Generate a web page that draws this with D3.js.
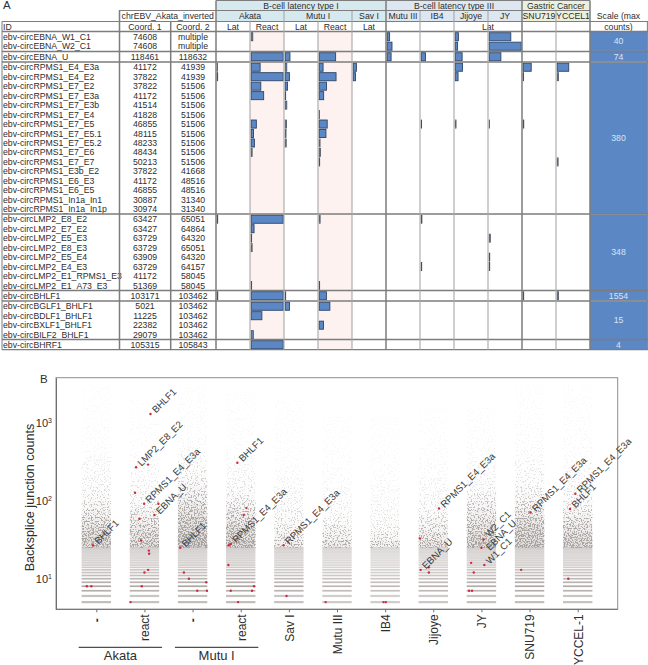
<!DOCTYPE html>
<html><head><meta charset="utf-8">
<script src="https://cdn.jsdelivr.net/npm/d3@7"></script>
<style>html,body{margin:0;padding:0;background:#fff}svg{display:block}text{font-family:"Liberation Sans",Arial,sans-serif}</style>
</head><body><div id="chart"></div>
<script>
// ---------- Panel A data ----------
const columns = ["AkataLat","AkataReact","MutuLat","MutuReact","SavI","MutuIII","IB4","Jijoye","JY","SNU719","YCCEL1"];
const groupRowCounts = [2,1,16,8,1,4,1];
const groupMaxCounts = [40,74,380,348,1554,15,4];
const rowIds = ["ebv-circEBNA_W1_C1","ebv-circEBNA_W2_C1","ebv-circEBNA_U","ebv-circRPMS1_E4_E3a","ebv-circRPMS1_E4_E2","ebv-circRPMS1_E7_E2","ebv-circRPMS1_E7_E3a","ebv-circRPMS1_E7_E3b","ebv-circRPMS1_E7_E4","ebv-circRPMS1_E7_E5","ebv-circRPMS1_E7_E5.1","ebv-circRPMS1_E7_E5.2","ebv-circRPMS1_E7_E6","ebv-circRPMS1_E7_E7","ebv-circRPMS1_E3b_E2","ebv-circRPMS1_E6_E3","ebv-circRPMS1_E6_E5","ebv-circRPMS1_In1a_In1","ebv-circRPMS1_In1a_In1p","ebv-circLMP2_E8_E2","ebv-circLMP2_E7_E2","ebv-circLMP2_E5_E3","ebv-circLMP2_E8_E3","ebv-circLMP2_E5_E4","ebv-circLMP2_E4_E3","ebv-circLMP2_E1_RPMS1_E3","ebv-circLMP2_E1_A73_E3","ebv-circBHLF1","ebv-circBGLF1_BHLF1","ebv-circBDLF1_BHLF1","ebv-circBXLF1_BHLF1","ebv-circBILF2_BHLF1","ebv-circBHRF1"];
const coord1 = ["74608","74608","118461","41172","37822","37822","41172","41514","41828","46855","48115","48233","48434","50213","37822","41172","46855","30887","30974","63427","63427","63729","63729","63909","63729","41172","51369","103171","5021","11225","22382","29079","105315"];
const coord2 = ["multiple","multiple","118632","41939","41939","51506","51506","51506","51506","51506","51506","51506","51506","51506","41668","48516","48516","31340","31340","65051","64864","64320","65051","64320","64157","58045","58045","103462","103462","103462","103462","103462","105843"];
// counts per column in the order of `columns`
const rowCounts = [
 [0,2,0,0,0,3,0,4,27,0,0],[0,0,0,0,0,6,0,3,40,0,0],[0,74,11,38,0,9,10,16,27,0,0],
 [4,106,19,46,38,0,0,87,0,95,137],[6,380,50,200,27,0,0,34,0,5,15],[0,114,27,87,0,0,0,0,0,0,0],
 [0,148,6,53,0,0,0,0,0,0,0],[0,0,19,0,0,0,0,0,0,0,0],[0,0,0,4,0,0,0,0,0,0,0],
 [0,61,15,95,0,0,5,10,4,7,0],[0,27,10,80,0,0,0,0,0,0,0],[0,38,12,10,0,0,0,0,0,0,0],
 [0,11,0,14,0,0,0,0,0,0,0],[0,0,0,6,0,0,0,0,0,0,11],[0,0,0,0,0,0,0,0,0,0,0],
 [0,0,0,0,0,0,0,0,0,0,0],[0,0,0,0,0,0,0,0,0,0,0],[0,0,0,0,0,0,0,0,0,0,0],[0,0,0,0,0,0,0,0,0,0,0],
 [6,348,0,10,0,0,8,0,0,0,0],[0,31,0,0,0,0,0,0,0,0,0],[0,5,0,0,0,0,0,0,12,0,0],
 [0,10,0,0,0,0,0,0,0,0,0],[0,0,0,0,0,0,0,0,6,0,0],[0,0,0,0,0,0,6,0,6,0,0],
 [0,0,0,0,0,0,0,0,0,0,0],[0,5,0,5,0,0,0,0,0,0,0],
 [30,1554,25,350,0,0,0,0,0,25,60],[0,15,2,5,0,0,0,0,0,0,0],[0,5,0,0,0,0,0,0,0,0,0],
 [0,0,0,2,0,0,0,0,0,0,0],[0,1,0,0,0,0,0,0,0,0,0],[0,4,0,0,0,0,0,0,0,0,0]];
const headerTop = [["B-cell latency type I",0,5,"#d6e9ef"],["B-cell latency type III",5,9,"#dde7f1"],["Gastric Cancer",9,11,"#ebf0de"]];
const headerMid = [["Akata",0,2,"#d6e9ef"],["Mutu I",2,4,"#d6e9ef"],["Sav I",4,5,"#d6e9ef"],["Mutu III",5,6,"#dde7f1"],["IB4",6,7,"#dde7f1"],["Jijoye",7,8,"#dde7f1"],["JY",8,9,"#dde7f1"],["SNU719",9,10,"#ebf0de"],["YCCEL1",10,11,"#ebf0de"]];
const headerLow = [["Lat",0,1],["React",1,2],["Lat",2,3],["React",3,4],["Lat",4,5],["Lat",5,11]];

// ---------- Panel B data ----------
const samples = ["-","react","- ","react ","Sav I","Mutu III","IB4","Jijoye","JY","SNU719","YCCEL-1"];
const sampleGroups = [["Akata",0,1],["Mutu I",2,3]];
const stripeCounts = [5,6,7,8,9,10,11,12,13,14,15,16,17,18,19,20,21,22,23,24,25];
const stripeTones =  [.66,.62,.82,.9,.8,.74,.68,.62,.58,.54,.5,.47,.45,.44,.43,.42,.42,.42,.42,.42,.42];
const stripeStrength = [1,.95,1,1,.92,.82,.78,.86,.95,1,.95];
// The thousands of background circles cannot be read one by one, so the
// picture is summarised as a read fill fraction per 0.1-decade count bin,
// one array per sample, dithered on screen by an SVG filter.
const densityBinsFromCount = 25;
const densAkataLat  = [.62,.58,.52,.42,.32,.24,.18,.14,.11,.09,.07,.05,.02,.015,.012,.01,.004,.002,.002,.003,.002];
const densAkataReact= [.58,.52,.45,.36,.28,.2,.14,.11,.09,.07,.05,.04,.015,.012,.01,.008,.004,.004,.002,0,0];
const densMutuLat   = [.72,.7,.65,.58,.5,.42,.34,.27,.2,.16,.12,.08,.05,.03,.02,.015,.01,.008,.006,.006,.003];
const densMutuReact = [.66,.62,.55,.46,.37,.28,.2,.14,.1,.08,.06,.045,.02,.015,.012,.01,.006,.006,.004,.002,0];
const densSavI      = [.38,.3,.24,.18,.14,.11,.09,.08,.06,.045,.02,.01,.008,.006,.005,.002,.002,.001,.001,0,0];
const densMutuIII   = [.42,.32,.24,.16,.12,.09,.07,.05,.04,.025,.012,.008,.006,.004,.003,.002,.001,0,0,0,0];
const densIB4       = [.35,.25,.16,.12,.09,.07,.06,.05,.035,.02,.012,.008,.005,.004,.002,.002,.001,0,0,0,0];
const densJijoye    = [.5,.4,.32,.24,.17,.12,.09,.075,.06,.04,.025,.018,.012,.008,.004,.003,.001,.001,0,0,0];
const densJY        = [.64,.58,.5,.42,.35,.27,.2,.13,.09,.07,.05,.04,.03,.02,.012,.008,.006,.004,0,0,0];
const densSNU       = [.68,.64,.58,.5,.4,.3,.22,.17,.12,.1,.08,.06,.04,.025,.015,.012,.008,.008,.008,.005,.004];
const densYCCEL     = [.62,.56,.48,.38,.28,.2,.15,.12,.09,.08,.06,.04,.025,.015,.012,.01,.008,.006,.005,.002,.001];
const densities = [densAkataLat,densAkataReact,densMutuLat,densMutuReact,densSavI,densMutuIII,densIB4,densJijoye,densJY,densSNU,densYCCEL];
// highlighted circles: sample index, count, horizontal jitter (-1..1), label
const viralSample = [0,0,0, 1,1,1,1,1,1,1,1,1,1,1,1,1,1,1, 2,2,2,2,2,2, 3,3,3,3,3,3,3,3,3,3, 4,4, 5, 6,6, 7,7,7,7,7, 8,8,8,8,8,8,8, 9,9, 10,10,10];
const viralCount  = [8,8,27, 5,8,12,13,21,23,31,59,66,92,92,128,272,294,1320, 25,12,10,9,7,7, 15,27,28,66,81,311,7,7,8,5, 27,6, 5, 5,5, 33,80,13,14,12, 32,25,16,15,12,7,7, 71,13, 124,79,10];
const viralJitter = [-.64,-.34,-.23, -.95,-.18,0,.25,.32,.30,-.23,-.34,.68,.95,-.02,-.64,-.57,.25,.41, -.84,-.59,-.25,.93,.32,.98, -.84,-.8,-.68,.2,.39,-.23,-.68,.77,.91,-.18, -.36,-.16, -.77, -.11,.05, -.91,.39,-.86,-.3,-.3, .14,0,-.7,.2,-.52,-.84,-.64, .07,-.57, -.16,-.52,-.64];
const viralLabel  = ["","","BHLF1", "","","","","","","","","EBNA_U","","RPMS1_E4_E3a","","LMP2_E8_E2","","BHLF1", "BHLF1","","","","","", "","","RPMS1_E4_E3a","","","BHLF1","","","","", "RPMS1_E4_E3a","", "", "","", "","RPMS1_E4_E3a","EBNA_U","","", "W2_C1","EBNA_U","","W1_C1","","","", "RPMS1_E4_E3a","", "RPMS1_E4_E3a","BHLF1",""];

// ---------- Drawing ----------
const W=648,H=665;
const svg=d3.select("#chart").append("svg").attr("width",W).attr("height",H).attr("viewBox",`0 0 ${W} ${H}`);
const ink="#2e2e2e", gridDark="#7d7d7d", gridLight="#a8a8a8", barFill="#5b87c4", barEdge="#2c4468";
const fs=8.7, rowH=9.47;
const x=d3.scaleBand().domain(columns).range([216,590]).paddingInner(0).paddingOuter(0);
const cw=x.bandwidth();
const colX=i=>216+i*cw;
const gTop=[32,52,62.5,214.5,291,301.5,340];
const A=svg.append("g");
A.append("text").attr("x",3).attr("y",9).attr("font-size",11.5).attr("fill",ink).text("A");

// header fills
const hdr=A.append("g");
hdr.selectAll(".t").data(headerTop).join("rect").attr("x",d=>colX(d[1])).attr("y",1).attr("width",d=>(d[2]-d[1])*cw).attr("height",9.5).attr("fill",d=>d[3]);
hdr.selectAll(".m").data(headerMid).join("rect").attr("x",d=>colX(d[1])).attr("y",11).attr("width",d=>(d[2]-d[1])*cw).attr("height",10.5).attr("fill",d=>d[3]);
// react background
A.selectAll(".rb").data([1,3]).join("rect").attr("x",i=>colX(i)).attr("y",32).attr("width",cw).attr("height",317.5).attr("fill","#fdf2f0");

// scale column and bars per group
let rowIndex=0;
const rowsY=[];
groupRowCounts.forEach((n,g)=>{
  const gy=gTop[g], gh=n*rowH;
  A.append("rect").attr("x",590).attr("y",gy).attr("width",57).attr("height",gh).attr("fill",barFill);
  A.append("text").attr("x",618.5).attr("y",gy+gh/2+3).attr("text-anchor","middle").attr("font-size",fs).attr("fill","#d9e4f4").text(groupMaxCounts[g]);
  const len=d3.scaleLinear().domain([0,groupMaxCounts[g]]).range([0,cw-2]);
  for(let k=0;k<n;k++,rowIndex++){
    const y=gy+k*rowH; rowsY.push(y+rowH/2);
    const r=rowIndex;
    columns.forEach((c,ci)=>{
      const v=rowCounts[r][ci];
      if(v>0){
        const w=len(v), thin=w<2.2;
        A.append("rect").attr("x",x(c)+1.2).attr("y",y+.7).attr("width",w).attr("height",rowH-1.4)
         .attr("fill",barFill).attr("stroke",thin?"#4a4f58":barEdge).attr("stroke-width",thin?.8:.9);
      }
    });
  }
});

// table text
const tt=A.append("g").attr("font-size",fs).attr("fill",ink);
tt.selectAll(".id").data(rowIds).join("text").attr("x",3).attr("y",(d,i)=>rowsY[i]+3).text(d=>d);
tt.selectAll(".c1").data(coord1).join("text").attr("x",145).attr("y",(d,i)=>rowsY[i]+3).attr("text-anchor","middle").text(d=>d);
tt.selectAll(".c2").data(coord2).join("text").attr("x",193).attr("y",(d,i)=>rowsY[i]+3).attr("text-anchor","middle").text(d=>d);
tt.append("text").attr("x",3).attr("y",29.5).text("ID");
tt.append("text").attr("x",145).attr("y",29.5).attr("text-anchor","middle").text("Coord. 1");
tt.append("text").attr("x",193).attr("y",29.5).attr("text-anchor","middle").text("Coord. 2");
tt.append("text").attr("x",167.7).attr("y",19).attr("text-anchor","middle").text("chrEBV_Akata_inverted");
tt.selectAll(".h1").data(headerTop).join("text").attr("x",d=>colX((d[1]+d[2])/2)).attr("y",8.5).attr("text-anchor","middle").text(d=>d[0]);
tt.selectAll(".h2").data(headerMid).join("text").attr("x",d=>colX((d[1]+d[2])/2)).attr("y",19).attr("text-anchor","middle").text(d=>d[0]);
tt.selectAll(".h3").data(headerLow).join("text").attr("x",d=>colX((d[1]+d[2])/2)).attr("y",29.5).attr("text-anchor","middle").text(d=>d[0]);
tt.append("text").attr("x",618.5).attr("y",19).attr("text-anchor","middle").text("Scale (max");
tt.append("text").attr("x",618.5).attr("y",29.5).attr("text-anchor","middle").text("counts)");

// grid lines
const grid=A.append("g").attr("fill","none");
const hl=(x1,x2,y,c,w)=>grid.append("line").attr("x1",x1).attr("x2",x2).attr("y1",y).attr("y2",y).attr("stroke",c).attr("stroke-width",w);
const vl=(x0,y1,y2,c,w)=>grid.append("line").attr("x1",x0).attr("x2",x0).attr("y1",y1).attr("y2",y2).attr("stroke",c).attr("stroke-width",w);
[51.6,62,214,290.5,300.9,339.5].forEach(y=>hl(2,648,y,gridDark,1.5));
hl(2,648,31.5,gridDark,1.5); hl(2,590,349.7,gridDark,1.2); hl(590,648,349.7,gridDark,1.2);
hl(216,590,.5,gridDark,1); hl(119,590,10.5,gridDark,1); hl(2,648,21.5,gridDark,1);
vl(2,21.5,349.7,gridDark,1);
vl(119.5,10.5,349.7,gridDark,1.5); vl(170.7,21.5,349.7,gridDark,1.5); vl(216,.5,349.7,gridDark,1.5);
vl(386,.5,349.7,gridDark,1.5); vl(522,.5,349.7,gridDark,1.5); vl(590,.5,349.7,gridDark,1.5); vl(647.4,21.5,349.7,gridDark,1);
[1,2,3,4,6,7,8,10].forEach(i=>vl(colX(i),(i===1||i===3)?21.5:11,349.7,gridLight,1.1));

// ---------- Panel B ----------
const B=svg.append("g");
const plot={l:56,r:617.7,t:377.7,b:609.3};
const y=d3.scaleLog().domain([4.04,3863]).range([plot.b,plot.t]);
const xs=d3.scalePoint().domain(samples).range([96.3,577.7]);
const jitter=d3.scaleLinear().domain([-1,1]).range([-14.7,14.7]);

const defs=svg.append("defs");
const f=defs.append("filter").attr("id","dither").attr("filterUnits","userSpaceOnUse")
  .attr("x",plot.l).attr("y",plot.t).attr("width",plot.r-plot.l).attr("height",plot.b-plot.t)
  .attr("color-interpolation-filters","sRGB");
f.append("feTurbulence").attr("type","fractalNoise").attr("baseFrequency",.7).attr("numOctaves",1).attr("seed",7).attr("result","n");
f.append("feColorMatrix").attr("in","n").attr("type","matrix").attr("values","0 0 0 0 0  0 0 0 0 0  0 0 0 0 0  4.2 0 0 0 -1.6").attr("result","na");
f.append("feComposite").attr("in","SourceAlpha").attr("in2","na").attr("operator","arithmetic").attr("k1",0).attr("k2",1).attr("k3",1).attr("k4",-1).attr("result","s");
f.append("feComponentTransfer").attr("in","s").attr("result","d").append("feFuncA").attr("type","linear").attr("slope",2.4).attr("intercept",0);
f.append("feColorMatrix").attr("in","d").attr("type","matrix").attr("values","0 0 0 0 .5  0 0 0 0 .47  0 0 0 0 .45  0 0 0 1 0");

const haze=B.append("g");
const cloud=B.append("g").attr("filter","url(#dither)").attr("opacity",.58);
samples.forEach((s,si)=>{
  densities[si].forEach((d,bi)=>{
    if(d<=0) return;
    const lo=densityBinsFromCount*Math.pow(10,bi*.1), hi=densityBinsFromCount*Math.pow(10,(bi+1)*.1);
    haze.append("rect").attr("x",xs(s)+jitter(-1)).attr("width",jitter(1)-jitter(-1))
      .attr("y",y(hi)).attr("height",y(lo)-y(hi)).attr("fill","#b5afac").attr("fill-opacity",d<.05?0:Math.pow(d,1.5)*.7);
    cloud.append("rect").attr("x",xs(s)+jitter(-1)).attr("width",jitter(1)-jitter(-1))
      .attr("y",y(hi)).attr("height",y(lo)-y(hi)).attr("fill","#000").attr("fill-opacity",Math.min(.95,d*1.05+.025));
  });
});
const stripes=B.append("g");
samples.forEach((s,si)=>{
  stripeCounts.forEach((c,ci)=>{
    stripes.append("rect").attr("x",xs(s)+jitter(-1)).attr("width",jitter(1)-jitter(-1))
      .attr("y",y(c)-(c<7?1.1:.85)).attr("height",c<7?2.2:1.7)
      .attr("fill","#a49d9a").attr("fill-opacity",stripeTones[ci]*stripeStrength[si]);
  });
});

// frame
B.append("rect").attr("x",plot.l).attr("y",plot.t).attr("width",plot.r-plot.l).attr("height",plot.b-plot.t).attr("fill","none").attr("stroke","#8e8e8e").attr("stroke-width",1);
const xAxis=d3.axisBottom(xs).tickSize(3).tickFormat(d=>d);
const gx=B.append("g").attr("transform",`translate(0,${plot.b})`).call(xAxis);
gx.select(".domain").attr("stroke","#6e6e6e").attr("d",`M${plot.l},0H${plot.r}`);
gx.selectAll(".tick line").attr("stroke","#6e6e6e");
gx.selectAll(".tick text").attr("transform","rotate(-90)").attr("text-anchor","end").attr("x",d=>d.trim()==="-"?-9:-5).attr("y",0).attr("dy","0.36em")
  .attr("font-size",12).attr("font-weight",d=>d.trim()==="-"?"bold":"normal").attr("fill",ink).attr("font-family",'"Liberation Sans",Arial,sans-serif');
const gy=B.append("g").attr("transform",`translate(${plot.l},0)`).call(d3.axisLeft(y).tickValues([10,100,1000]).tickSize(0).tickFormat(()=>""));
gy.select(".domain").attr("stroke","#6e6e6e");
[[10,1],[100,2],[1000,3]].forEach(([v,e])=>{
  const t=B.append("text").attr("x",52).attr("y",y(v)+4).attr("text-anchor","end").attr("font-size",11).attr("fill",ink);
  t.append("tspan").text("10");
  t.append("tspan").attr("font-size",7).attr("dy",-4).text(e);
});
B.append("text").attr("transform",`translate(34,497.5) rotate(-90)`).attr("text-anchor","middle").attr("font-size",12.6).attr("fill",ink).text("Backsplice junction counts");
B.append("text").attr("x",40).attr("y",383).attr("font-size",11.5).attr("fill",ink).text("B");

// group brackets
sampleGroups.forEach(([name,a,b])=>{
  const c=(xs(samples[a])+xs(samples[b]))/2;
  B.append("line").attr("x1",c-41.7).attr("x2",c+41.7).attr("y1",647.3).attr("y2",647.3).attr("stroke","#222").attr("stroke-width",1);
  B.append("text").attr("x",c).attr("y",659.5).attr("text-anchor","middle").attr("font-size",13).attr("fill",ink).text(name);
});

// highlighted circles and labels
const viral=viralSample.map((s,i)=>({s,c:viralCount[i],j:viralJitter[i],l:viralLabel[i]}));
B.append("g").selectAll("circle").data(viral).join("circle")
  .attr("cx",d=>xs(samples[d.s])+jitter(d.j)).attr("cy",d=>y(d.c)).attr("r",1.2).attr("fill","#cf2a3e");
// labels in the crowded JY column sit apart from their points
const nudge=d=>{ if(d.s!==8) return [0,0]; return d.l==="W2_C1"?[0,-1.5]:d.l==="EBNA_U"?[3,3.5]:[0,0]; };
B.append("g").selectAll("text").data(viral.filter(d=>d.l)).join("text")
  .attr("transform",d=>`translate(${xs(samples[d.s])+jitter(d.j)+2+nudge(d)[0]},${y(d.c)-1+nudge(d)[1]}) rotate(-45)`)
  .attr("x",2).attr("font-size",9.6).attr("fill","#3a3a3a").attr("dy","0.3em").text(d=>d.l);
</script></body></html>
